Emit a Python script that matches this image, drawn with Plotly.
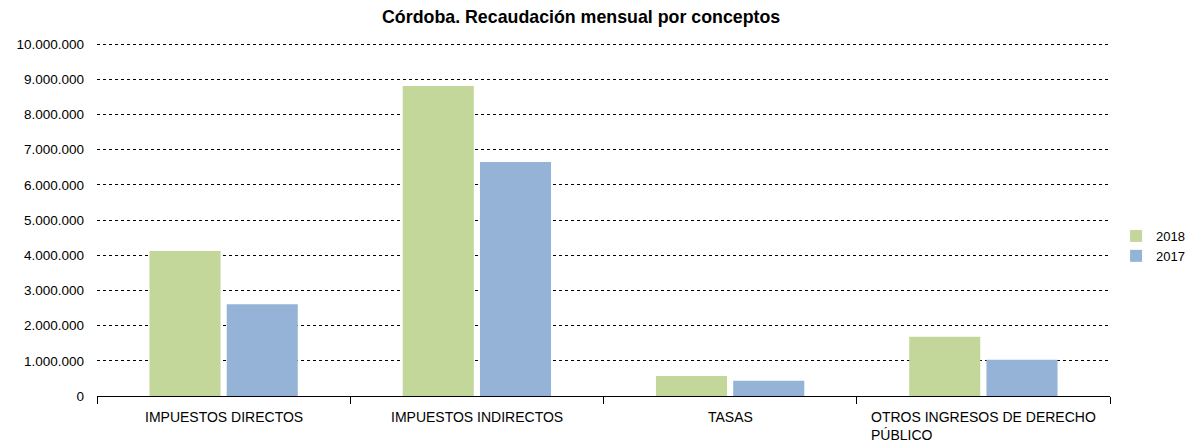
import plotly.graph_objects as go

# Recaudación mensual por conceptos (euros)
categorias = ["IMPUESTOS DIRECTOS", "IMPUESTOS INDIRECTOS", "TASAS",
              "OTROS INGRESOS DE DERECHO PÚBLICO"]
etiquetas = ["IMPUESTOS DIRECTOS", "IMPUESTOS INDIRECTOS", "TASAS",
             "OTROS INGRESOS DE DERECHO<br>PÚBLICO"]
valores_2018 = [4120000, 8810000, 570000, 1680000]
valores_2017 = [2610000, 6650000, 430000, 1030000]
ticks_y = [0, 1000000, 2000000, 3000000, 4000000, 5000000,
           6000000, 7000000, 8000000, 9000000, 10000000]

FUENTE = "Liberation Sans, Arial, sans-serif"

fig = go.Figure()
fig.add_trace(go.Bar(name="2018", x=categorias, y=valores_2018,
                     marker=dict(color="#C4D79B", line=dict(width=0))))
fig.add_trace(go.Bar(name="2017", x=categorias, y=valores_2017,
                     marker=dict(color="#95B3D7", line=dict(width=0))))

# category labels below the axis, left-aligned within each block
for cat, lab in zip(categorias, etiquetas):
    fig.add_annotation(x=cat, xref="x", y=0, yref="paper", yanchor="top",
                       yshift=-11, text=lab, showarrow=False, align="left",
                       font=dict(family=FUENTE, size=14, color="#000000"))

fig.update_layout(
    width=1186, height=445,
    margin=dict(l=97, r=76, t=43, b=49, autoexpand=False),
    paper_bgcolor="white", plot_bgcolor="white",
    separators=",.",
    title=dict(text="<b>Córdoba. Recaudación mensual por conceptos</b>",
               x=0.49, xanchor="center", y=0.962, yanchor="middle",
               font=dict(family=FUENTE, size=17.8, color="#000000")),
    barmode="group", bargap=0.39, bargroupgap=0.08,
    showlegend=True,
    legend=dict(x=1.006, xanchor="left", y=0.425, yanchor="middle",
                font=dict(family=FUENTE, size=13, color="#000000"),
                itemwidth=30, tracegroupgap=2, bgcolor="rgba(0,0,0,0)"),
    font=dict(family=FUENTE, size=12, color="#000000"),
)
fig.update_xaxes(showticklabels=False, showline=True, linecolor="#000000",
                 linewidth=1, ticks="outside", tickson="boundaries",
                 ticklen=7, tickcolor="#000000", showgrid=False)
fig.update_yaxes(range=[0, 10030000], tickvals=ticks_y, tickformat=",d",
                 showgrid=True, gridcolor="#000000", griddash="dot",
                 gridwidth=1, zeroline=False, showline=False,
                 ticklabelstandoff=12,
                 tickfont=dict(family=FUENTE, size=13.5, color="#000000"))

fig.write_html("out.html")
